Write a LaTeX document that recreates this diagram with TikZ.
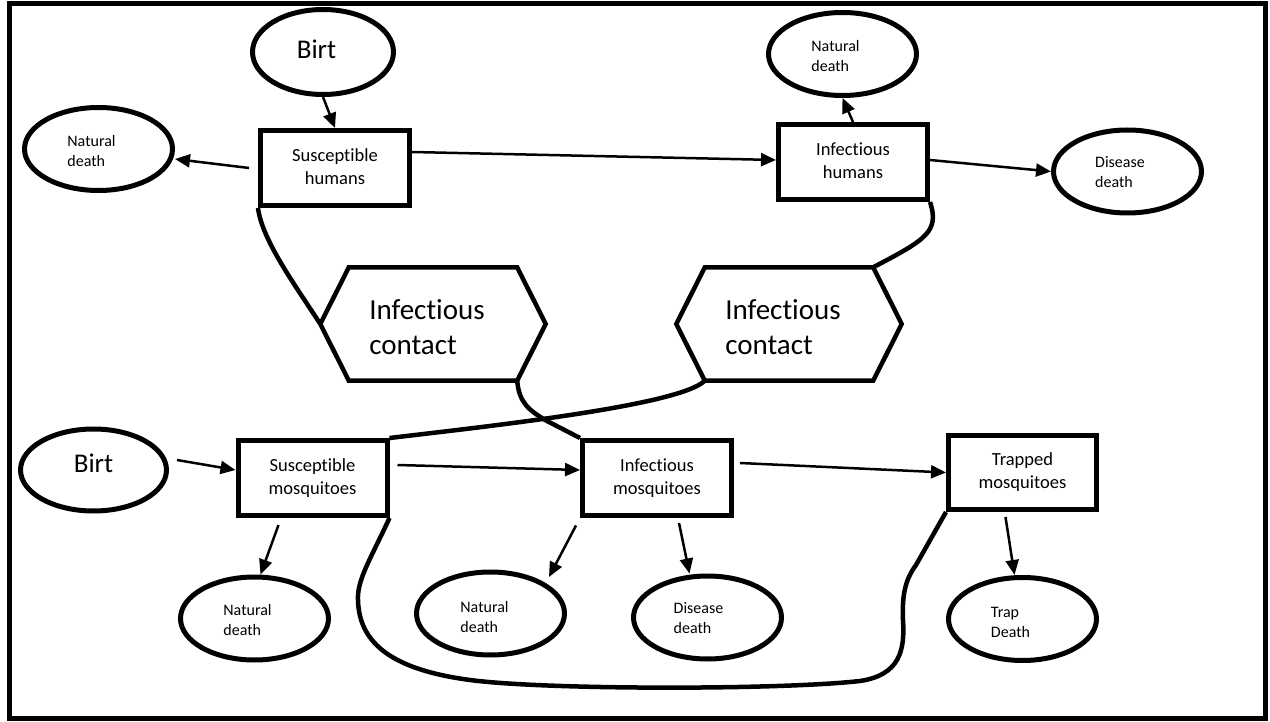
\documentclass[tikz,border=0pt]{standalone}
\usepackage{fontspec}
\setmainfont{Carlito}[Ligatures=NoCommon]
\usetikzlibrary{arrows.meta,shapes.geometric}
\newcommand\txl[3]{{\fontsize{#1}{#2}\selectfont\begin{tabular}{@{}l@{}}#3\end{tabular}}}
\newcommand\txc[3]{{\fontsize{#1}{#2}\selectfont\begin{tabular}{@{}c@{}}#3\end{tabular}}}
\begin{document}
\begin{tikzpicture}[x=1pt,y=-1pt,
  ell/.style={ellipse,draw,line width=5pt,inner sep=0pt,minimum width=148pt,minimum height=83pt},
  bx/.style={rectangle,draw,line width=5pt,inner sep=0pt,minimum width=149pt,minimum height=75pt},
  hexin/.style={rectangle,inner sep=0pt,minimum width=168pt,minimum height=113pt},
  lbl/.style={inner sep=0pt},
  arr/.style={-{Triangle[length=15pt,width=13pt]},line width=2.5pt},
  lnk/.style={line width=4.5pt}]
\useasboundingbox (0,0) rectangle (1270,722);
\draw[line width=5pt] (9.5,4) rectangle (1265.5,718);

% human row
\node[ell,minimum width=141pt,minimum height=85pt,
  label={[lbl,xshift=-6.5pt]center:{\txl{27}{32}{Birt}}}] (birtH) at (323,52) {};
\node[bx] (susH) at (335,168) {\txc{18.5}{23}{Susceptible\\humans}};
\node[ell,label={[lbl,xshift=-7pt,yshift=-4pt]center:{\txl{16}{20}{Natural\\death}}}] (natH1) at (98.5,149) {};
\node[bx] (infH) at (853,162) {\txc{18.5}{23}{Infectious\\humans}};
\node[ell,label={[lbl,xshift=-7pt,yshift=-4pt]center:{\txl{16}{20}{Natural\\death}}}] (natH2) at (842.5,54) {};
\node[ell,label={[lbl,xshift=-7.5pt,yshift=-2.5pt]center:{\txl{16}{20}{Disease\\death}}}] (disH) at (1127.5,171.5) {};

% contact hexagons
\node[hexin,label={[lbl,xshift=-6pt,yshift=-6pt]center:{\txl{29}{35}{Infectious\\contact}}}] (hex1) at (433,324) {};
\node[hexin,label={[lbl,xshift=-6pt,yshift=-6pt]center:{\txl{29}{35}{Infectious\\contact}}}] (hex2) at (789,324) {};
\draw[lnk] (hex1.north west) -- (hex1.north east) -- ([xshift=28.5pt]hex1.east) -- (hex1.south east)
  -- (hex1.south west) -- ([xshift=-28.5pt]hex1.west) -- cycle;
\draw[lnk] (hex2.north west) -- (hex2.north east) -- ([xshift=28.5pt]hex2.east) -- (hex2.south east)
  -- (hex2.south west) -- ([xshift=-28.5pt]hex2.west) -- cycle;

% mosquito row
\node[ell,minimum width=146pt,minimum height=82pt,
  label={[lbl,yshift=4pt]center:{\txl{27}{32}{Birt}}}] (birtM) at (93.5,470) {};
\node[bx] (susM) at (312.5,478) {\txc{18.5}{23}{Susceptible\\mosquitoes}};
\node[bx] (infM) at (657,478) {\txc{18.5}{23}{Infectious\\mosquitoes}};
\node[bx,minimum width=148pt,minimum height=74pt] (trapM) at (1022.5,472.5) {\txc{18.5}{23}{Trapped\\mosquitoes}};
\node[ell,label={[lbl,xshift=-7pt,yshift=-2.5pt]center:{\txl{16}{20}{Natural\\death}}}] (natM1) at (254.5,618.5) {};
\node[ell,label={[lbl,xshift=-6pt,yshift=-4.5pt]center:{\txl{16}{20}{Natural\\death}}}] (natM2) at (490.5,613.5) {};
\node[ell,label={[lbl,xshift=-9pt,yshift=-1.5pt]center:{\txl{16}{20}{Disease\\death}}}] (disM) at (707.5,617.5) {};
\node[ell,label={[lbl,xshift=-12pt,yshift=-4pt]center:{\txl{16}{20}{Trap\\Death}}}] (trapD) at (1022.5,619) {};

% arrows
\draw[arr] (birtH.south) -- (susH.north);
\draw[arr] ([xshift=-9pt]susH.west) -- ([yshift=-10pt]natH1.east);
\draw[arr] ([yshift=16pt]susH.east) -- ([yshift=2pt]infH.west);
\draw[arr] (infH.north) -- (natH2.south);
\draw[arr] ([yshift=2pt]infH.east) -- (disH.west);
\draw[arr] ([xshift=8pt,yshift=10pt]birtM.east) -- ([yshift=8pt]susM.west);
\draw[arr] ([xshift=8pt,yshift=13pt]susM.east) -- ([yshift=8pt]infM.west);
\draw[arr] ([xshift=6pt,yshift=15pt]infM.east) -- (trapM.west);
\draw[arr] ([xshift=-34pt,yshift=-7pt]susM.south) -- ([xshift=6pt]natM1.north);
\draw[arr] ([xshift=-4pt,yshift=-7.5pt]infM.south west) -- ([xshift=58.5pt,yshift=36.5pt]natM2.center);
\draw[arr] ([xshift=22pt,yshift=-5pt]infM.south) -- ([xshift=-18pt]disM.north);
\draw[arr] ([xshift=-17pt,yshift=-5pt]trapM.south) -- ([xshift=-8pt]trapD.north);

% contact links
\draw[lnk] (susH.south west) .. controls (262,240) and (295,285) .. ([xshift=-28.5pt]hex1.west);
\draw[lnk] (infH.south east) .. controls (940,232) and (925,240) .. (hex2.north east);
\draw[lnk] (hex1.south east) .. controls (519,402) and (528,410) .. (547,421) -- (infM.north west);
\draw[lnk] (hex2.south west) .. controls (680,405) and (500,425) .. (susM.north east);
\draw[lnk] (susM.south east) .. controls (370,560) and (357,580) .. (358,600)
  .. controls (359,645) and (395,670) .. (470,680)
  .. controls (545,690) and (780,690) .. (860,681)
  .. controls (900,675) and (905,650) .. (903,620)
  .. controls (902,595) and (905,580) .. (916,565)
  -- (trapM.south west);
\end{tikzpicture}
\end{document}
